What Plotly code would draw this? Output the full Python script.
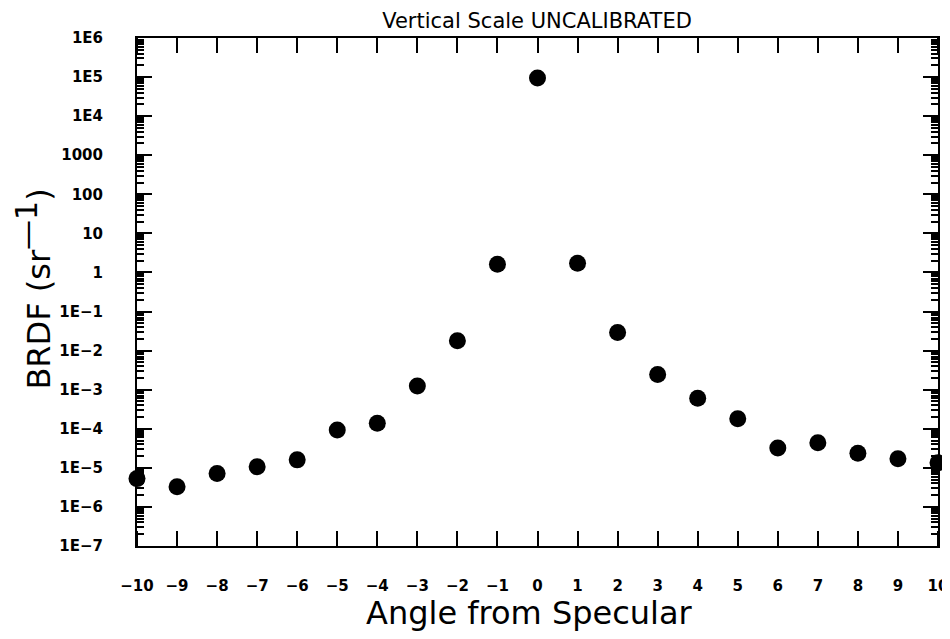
import plotly.graph_objects as go

angles = [-10, -9, -8, -7, -6, -5, -4, -3, -2, -1, 0, 1, 2, 3, 4, 5, 6, 7, 8, 9, 10]
brdf = [5.3e-6, 3.3e-6, 7.2e-6, 1.07e-5, 1.6e-5, 9.3e-5, 1.38e-4, 1.24e-3, 1.8e-2, 1.62,
        9.5e4, 1.72, 2.9e-2, 2.45e-3, 6.0e-4, 1.8e-4, 3.2e-5, 4.4e-5, 2.35e-5, 1.7e-5, 1.35e-5]

x_ticks = list(range(-10, 11))
x_labels = ["\u2212" + str(-v) if v < 0 else str(v) for v in x_ticks]
y_ticks = [1e6, 1e5, 1e4, 1e3, 1e2, 1e1, 1, 1e-1, 1e-2, 1e-3, 1e-4, 1e-5, 1e-6, 1e-7]
y_labels = ["1E6", "1E5", "1E4", "1000", "100", "10", "1", "1E\u22121", "1E\u22122",
            "1E\u22123", "1E\u22124", "1E\u22125", "1E\u22126", "1E\u22127"]
y_minor = [k * 10.0 ** d for d in range(-7, 6) for k in range(2, 10)]

title_text = "Vertical Scale UNCALIBRATED"
x_title = "Angle from Specular"
y_title = "BRDF (sr<sup><span style='font-size:30px'>\u20141</span></sup>)"

fig = go.Figure()
fig.add_trace(go.Scatter(
    x=angles, y=brdf, mode="markers",
    marker=dict(color="black", size=17, line=dict(width=0)),
    cliponaxis=False, showlegend=False,
))

tickfont = dict(family="DejaVu Sans", size=15, color="black", weight="bold")

fig.update_layout(
    width=942, height=631,
    margin=dict(l=129, r=12, t=30, b=93, autoexpand=False),
    paper_bgcolor="white", plot_bgcolor="white",
    title=dict(text=title_text, x=0.5616, xanchor="center", y=0.9794, yanchor="middle",
               font=dict(family="DejaVu Sans", size=21, color="black")),
    xaxis=dict(
        range=[-10, 10], tickvals=x_ticks, ticktext=x_labels,
        ticks="", showline=True, linewidth=2, linecolor="black", mirror="allticks",
        showgrid=False, zeroline=False, tickfont=tickfont, ticklabelstandoff=25,
        minor=dict(tickmode="array", tickvals=x_ticks, ticks="inside", ticklen=15,
                   tickwidth=2, tickcolor="black", showgrid=False),
    ),
    yaxis=dict(
        type="log", range=[-7, 6], tickvals=y_ticks, ticktext=y_labels,
        ticks="inside", ticklen=15, tickwidth=2, tickcolor="black",
        showline=True, linewidth=2, linecolor="black", mirror="allticks",
        showgrid=False, zeroline=False, tickfont=tickfont, ticklabelstandoff=29,
        minor=dict(tickmode="array", tickvals=y_minor, ticks="inside", ticklen=7,
                   tickwidth=1.5, tickcolor="black", showgrid=False),
    ),
    annotations=[
        dict(text=x_title, xref="paper", yref="paper", x=0.49, y=-0.132,
             xanchor="center", yanchor="middle", showarrow=False,
             font=dict(family="DejaVu Sans", size=32, color="black")),
        dict(text=y_title, xref="paper", yref="paper", x=-0.129, y=0.506,
             xanchor="center", yanchor="middle", showarrow=False, textangle=-90,
             font=dict(family="DejaVu Sans", size=32, color="black")),
    ],
)

fig.write_html("out.html")
